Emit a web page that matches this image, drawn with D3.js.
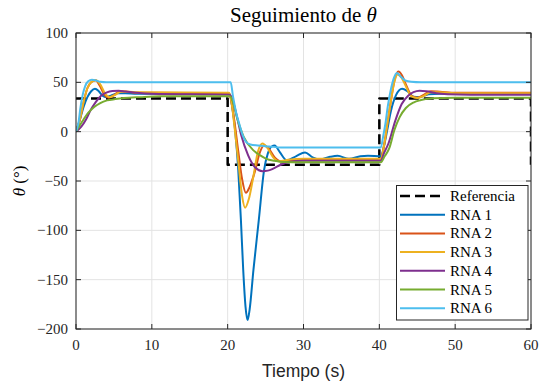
<!DOCTYPE html>
<html>
<head>
<meta charset="utf-8">
<script src="https://cdn.jsdelivr.net/npm/d3@7"></script>
<style>
  body{margin:0;background:#fff;}
  svg{display:block;}
</style>
</head>
<body>
<div id="chart"></div>
<script>
// series: [time (s), theta (deg)]
const referencia = [[0,33.5],[20,33.5],[20,-33.5],[40,-33.5],[40,33.5],[60,33.5],[60,-33.5]];

const rna1 = [[0,0],[0.5,12],[1,25],[1.5,35],[2,41],[2.5,43.5],[3,41],[3.5,36.5],[4,35],[4.6,36.5],[5.5,39],[6.5,39],[8,38.5],[20.2,38.5],[20.6,25],[21,0],[21.4,-39],[21.75,-90],[22.05,-140],[22.35,-177],[22.63,-191],[22.9,-180],[23.4,-140],[24.1,-90],[24.8,-39],[25.3,-22],[25.8,-15],[26.2,-14],[26.9,-21],[27.8,-29],[29,-25],[30.2,-21],[31.2,-26],[32.2,-28],[33.5,-25.5],[34.5,-24.5],[36,-27.5],[37.5,-25],[38.5,-24.5],[40.2,-25],[40.6,-15],[41,0],[41.5,20],[42.2,37],[43,43.5],[43.7,41],[44.5,35.5],[45.3,35],[46.5,38],[48,38.5],[60,38.5]];

const rna2 = [[0,0],[0.5,12],[1,30],[1.5,44],[2,50],[2.6,52],[3.1,47],[3.7,38],[4.3,34.5],[5,37],[5.8,41],[6.8,40.5],[8,39.5],[20.2,39],[20.5,30],[20.9,10],[21.4,-20],[21.9,-48],[22.4,-62],[22.9,-56],[23.6,-40],[24.2,-22],[24.8,-14],[25.4,-17],[26.2,-26],[27.2,-30.5],[28.5,-29],[30,-28.5],[40.2,-28.5],[40.6,-15],[41,5],[41.5,30],[42,52],[42.5,61],[43,57],[43.6,46],[44.3,36],[45,34.5],[45.8,37],[46.8,41],[48,40.5],[50,39.5],[60,39.5]];

const rna3 = [[0,0],[0.5,12],[1,30],[1.5,44],[2,50],[2.6,52],[3.2,48],[3.8,39],[4.4,35],[5.1,37],[5.9,40.5],[7,40.5],[8,40],[20.2,39.5],[20.5,30],[20.9,5],[21.4,-30],[21.9,-65],[22.3,-77],[22.8,-68],[23.4,-45],[24,-20],[24.6,-12],[25.2,-16],[26,-26],[26.8,-30],[28,-28.5],[30,-27.5],[40.2,-27.5],[40.6,-15],[41,5],[41.5,30],[42,51],[42.4,58],[42.9,55],[43.5,46],[44.2,36],[45,34],[45.8,36],[46.8,40],[48,40],[50,39],[60,39]];

const rna4 = [[0,0],[0.7,5],[1.3,12],[1.9,21.5],[2.6,30],[3.3,36.5],[4,39.5],[4.8,41.2],[5.6,41.5],[6.5,40.8],[8,39.5],[10,38.5],[20.3,37.5],[20.7,31],[21.2,16],[21.8,-4],[22.7,-24],[23.6,-36],[24.6,-40],[25.3,-39.5],[26,-37.5],[27,-33.5],[28.2,-30.5],[30,-29.5],[40.2,-29.5],[40.6,-22],[41.2,-12],[42.1,11],[42.95,28],[43.8,36.5],[44.5,40],[45.3,41.5],[46.2,41],[47.5,39],[49,38],[52,37.5],[60,37.5]];

const rna5 = [[0,0],[0.8,10],[1.6,19],[2.4,25],[3.2,29],[4.1,31.7],[5.2,33],[6.3,34],[8.5,35],[11,35.8],[20.3,36],[20.7,30],[21.2,15],[22.1,-5],[23.4,-19],[24.3,-24],[25.1,-27.5],[26.2,-29.5],[27.3,-30.8],[30,-31],[40.2,-31],[40.7,-25],[41.3,-17],[42,2],[42.7,15],[43.5,24],[44.5,29.5],[45.5,32],[47,33.8],[50,34.5],[60,34.5]];

const rna6 = [[0,0],[0.3,8],[0.6,25],[0.9,38],[1.2,46],[1.6,51],[2.1,52.5],[2.6,52],[3.2,50.5],[4,50],[20.4,50],[20.7,36],[21.1,20],[21.6,6],[22,-4],[22.4,-10],[23,-13],[24,-14],[25.5,-15],[27,-16],[40.2,-16],[40.5,-5],[40.8,8],[41.1,25],[41.5,42],[41.9,54],[42.3,59.5],[42.8,56],[43.4,52],[44.2,50.5],[45.5,50],[60,50]];

const names = ["Referencia","RNA 1","RNA 2","RNA 3","RNA 4","RNA 5","RNA 6"];
const xTicks = [0,10,20,30,40,50,60];
const yTicks = [-200,-150,-100,-50,0,50,100];

const series = [referencia,rna1,rna2,rna3,rna4,rna5,rna6];
const colors = ["#000000","#0072BD","#D95319","#EDB120","#7E2F8E","#77AC30","#4DBEEE"];

const w=539, h=385;
const m={top:33,right:8,bottom:56,left:76};
const axisColor="#262626";
const serif="'Liberation Serif','Times New Roman',serif";

const svg=d3.select("#chart").append("svg")
    .attr("width",w).attr("height",h);

const x=d3.scaleLinear().domain([0,60]).range([m.left,w-m.right]);
const y=d3.scaleLinear().domain([-200,100]).range([h-m.bottom,m.top]);

//grid
svg.append("g").selectAll("line").data(xTicks).enter().append("line")
    .attr("x1",d=>x(d)).attr("x2",d=>x(d))
    .attr("y1",m.top).attr("y2",h-m.bottom)
    .attr("stroke","#e3e3e3").attr("stroke-width",1);
svg.append("g").selectAll("line").data(yTicks).enter().append("line")
    .attr("y1",d=>y(d)).attr("y2",d=>y(d))
    .attr("x1",m.left).attr("x2",w-m.right)
    .attr("stroke","#e3e3e3").attr("stroke-width",1);

//clip for lines
svg.append("clipPath").attr("id","clip").append("rect")
    .attr("x",m.left).attr("y",m.top)
    .attr("width",w-m.left-m.right).attr("height",h-m.top-m.bottom);

const smooth=d3.line().x(d=>x(d[0])).y(d=>y(d[1])).curve(d3.curveMonotoneX);
const straight=d3.line().x(d=>x(d[0])).y(d=>y(d[1]));

const plot=svg.append("g").attr("clip-path","url(#clip)");
series.forEach((s,i)=>{
    plot.append("path")
        .attr("d",i==0?straight(s):smooth(s))
        .attr("fill","none")
        .attr("stroke",colors[i])
        .attr("stroke-width",i==0?2.5:2)
        .attr("stroke-dasharray",i==0?"10,5":null)
        .attr("stroke-linejoin","round");
});

//axes, ticks inside and mirrored (box on)
const fmt=d=>d<0?"\u2212"+Math.abs(d):d;
const tl=5;
const ax=svg.append("g").attr("stroke",axisColor).attr("stroke-width",1);
ax.append("rect").attr("x",m.left).attr("y",m.top)
    .attr("width",w-m.left-m.right).attr("height",h-m.top-m.bottom)
    .attr("fill","none");
xTicks.forEach(t=>{
    ax.append("line").attr("x1",x(t)).attr("x2",x(t)).attr("y1",h-m.bottom).attr("y2",h-m.bottom-tl);
    ax.append("line").attr("x1",x(t)).attr("x2",x(t)).attr("y1",m.top).attr("y2",m.top+tl);
});
yTicks.forEach(t=>{
    ax.append("line").attr("y1",y(t)).attr("y2",y(t)).attr("x1",m.left).attr("x2",m.left+tl);
    ax.append("line").attr("y1",y(t)).attr("y2",y(t)).attr("x1",w-m.right).attr("x2",w-m.right-tl);
});

svg.append("g").selectAll("text").data(xTicks).enter().append("text")
    .attr("x",d=>x(d)).attr("y",h-m.bottom+21)
    .attr("text-anchor","middle")
    .style("font-family",serif).style("font-size","15px").attr("fill",axisColor)
    .text(fmt);
svg.append("g").selectAll("text").data(yTicks).enter().append("text")
    .attr("x",m.left-8).attr("y",d=>y(d)+5)
    .attr("text-anchor","end")
    .style("font-family",serif).style("font-size","15px").attr("fill",axisColor)
    .text(fmt);

//title
const title=svg.append("text")
    .attr("x",(m.left+w-m.right)/2).attr("y",22)
    .attr("text-anchor","middle")
    .style("font-family",serif).style("font-size","21px").attr("fill","#000");
title.append("tspan").text("Seguimiento de ");
title.append("tspan").style("font-style","italic").text("\u03b8");

//axis labels
svg.append("text")
    .attr("x",(m.left+w-m.right)/2).attr("y",377)
    .attr("text-anchor","middle")
    .style("font-family","'Liberation Sans',Arial,sans-serif").style("font-size","17.5px").attr("fill",axisColor)
    .text("Tiempo (s)");
const yl=svg.append("text")
    .attr("transform","translate(25,"+((m.top+h-m.bottom)/2)+") rotate(-90)")
    .attr("text-anchor","middle")
    .style("font-family",serif).style("font-size","17px").attr("fill","#000");
yl.append("tspan").style("font-style","italic").text("\u03b8");
yl.append("tspan").text(" (\u00b0)");

//legend
const legend=svg.append("g").attr("id","legend");
legend.append("rect")
    .attr("x",396.5).attr("y",185.5).attr("width",131.5).attr("height",134.5)
    .attr("fill","#fff").attr("stroke",axisColor).attr("stroke-width",1);
names.forEach((n,i)=>{
    const ly=196+i*18.7;
    legend.append("line")
        .attr("x1",400).attr("x2",445).attr("y1",ly).attr("y2",ly)
        .attr("stroke",colors[i])
        .attr("stroke-width",i==0?2.5:2)
        .attr("stroke-dasharray",i==0?"10,5":null);
    legend.append("text")
        .attr("x",450).attr("y",ly+5)
        .style("font-family",serif).style("font-size","15px").attr("fill","#000")
        .text(n);
});
</script>
</body>
</html>
